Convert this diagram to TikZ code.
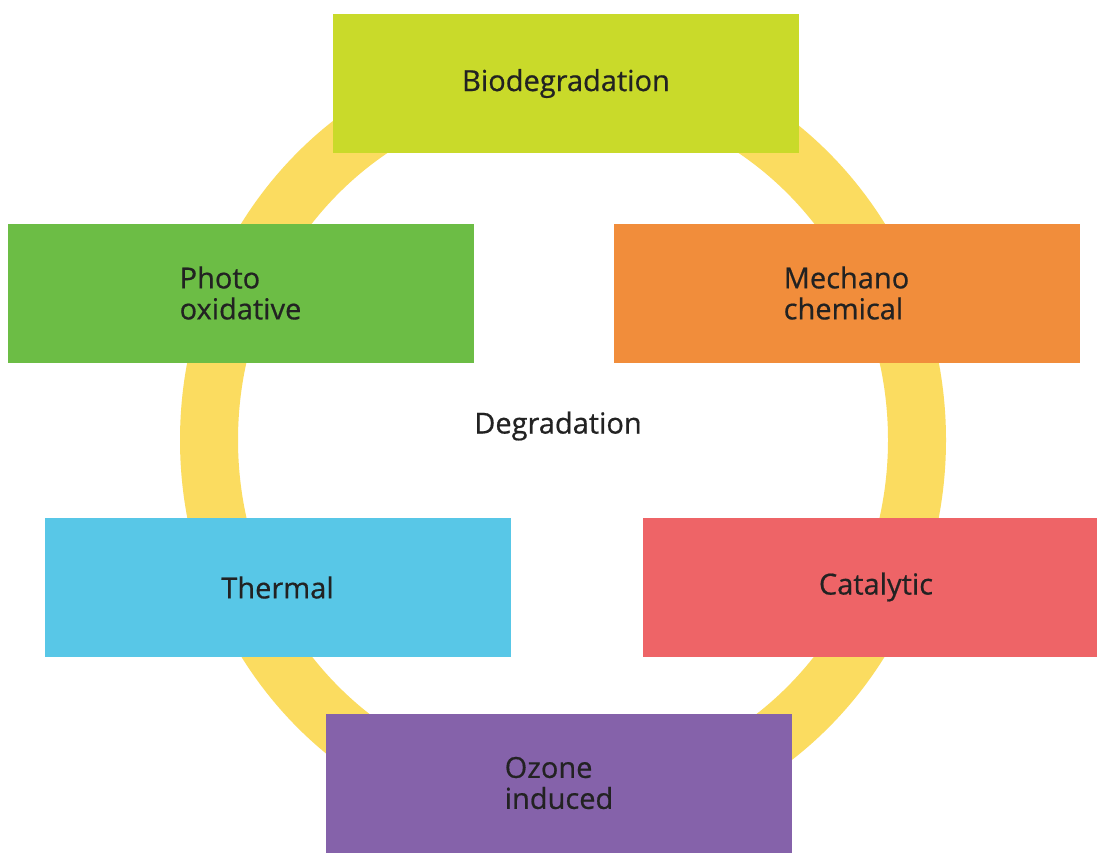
\documentclass[tikz,border=0pt]{standalone}
\usepackage{fontspec}
\setmainfont{Open Sans}
\newfontfamily\lblfont{Open Sans}[FakeBold=0.6]
\definecolor{cbio}{HTML}{C9DA2A}
\definecolor{cphoto}{HTML}{6CBD45}
\definecolor{cmech}{HTML}{F18D3B}
\definecolor{ctherm}{HTML}{58C7E7}
\definecolor{ccat}{HTML}{EE6467}
\definecolor{cozone}{HTML}{8562AA}
\definecolor{cring}{HTML}{FBDC60}
\definecolor{ctext}{HTML}{222222}
\begin{document}
\begin{tikzpicture}[x=1pt,y=-1pt,
  box/.style={rectangle, minimum width=466pt, minimum height=139pt, inner sep=0pt,
    align=left, text=ctext, font=\lblfont\fontsize{29}{31}\selectfont},
  lbl/.style={text=ctext, font=\lblfont\fontsize{29}{31}\selectfont, inner sep=0pt}]
\useasboundingbox (0,0) rectangle (1097,852);
\clip (0,0) rectangle (1097,852);
\fill[white] (0,0) rectangle (1097,852);
\draw[cring, line width=58pt] (563,440) ellipse [x radius=354pt, y radius=370pt];
\node[box, fill=cbio] (bio) at (566,83.5) {\raisebox{2pt}{Biodegradation}};
\node[box, fill=cphoto] (photo) at (240.5,293) {Photo\\oxidative};
\node[box, fill=cmech] (mech) at (846.5,293) {Mechano\\chemical};
\node[box, fill=ctherm] (therm) at (277.5,587.5) {Thermal};
\node[box, fill=ccat] (cat) at (876,587) {Catalytic};
\node[box, fill=cozone] (ozone) at (559,783) {Ozone\\induced};
\node[lbl] (deg) at (558,426) {Degradation};
\end{tikzpicture}
\end{document}
